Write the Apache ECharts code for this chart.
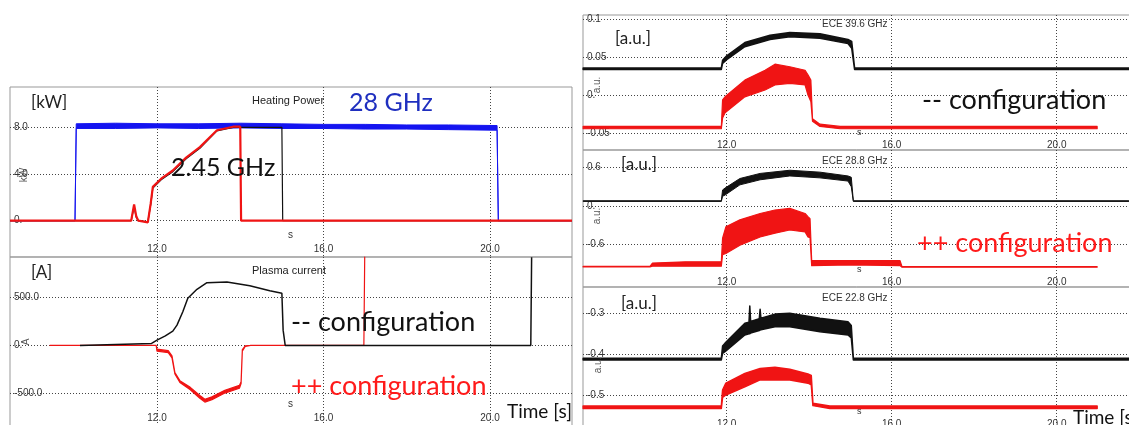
<!DOCTYPE html>
<html>
<head>
<meta charset="utf-8">
<script src="https://cdn.jsdelivr.net/npm/echarts@6/dist/echarts.min.js"></script>
<style>
  html, body { margin: 0; padding: 0; background: #fff; }
  #chart { width: 1129px; height: 425px; }
</style>
</head>
<body>
<div id="chart"></div>
<script>
// tick values
var timeTicks = [12, 16, 20];
var powerTicks = [0, 4, 8];
var currentTicks = [-500, 0, 500];
var ece396Ticks = [-0.05, 0, 0.05, 0.1];
var ece288Ticks = [-0.6, 0, 0.6];
var ece228Ticks = [-0.5, -0.4, -0.3];

// heating power [kW] - 28 GHz (blue, noisy band)
var p28Time = [8.47, 10.03, 10.06, 11.0, 12.0, 13.0, 14.0, 15.0, 16.0, 17.0, 18.0, 19.0, 20.17, 20.2, 21.97];
var p28Low = [0, 0, 7.9, 7.9, 7.95, 7.9, 7.95, 7.9, 7.9, 7.85, 7.85, 7.8, 7.75, 0, 0];
var p28High = [0, 0, 8.3, 8.35, 8.3, 8.3, 8.35, 8.3, 8.25, 8.25, 8.2, 8.2, 8.15, 0, 0];
// 2.45 GHz, forward (black) and measured (red)
var p245RefTime = [8.47, 11.38, 11.45, 11.5, 11.55, 11.78, 11.85, 11.9, 12.1, 12.38, 12.7, 13.03, 13.44, 13.83, 15.0, 15.02, 21.97];
var p245RefValue = [0, 0, 1.2, 0.3, 0, -0.1, 1.4, 2.8, 3.5, 4.2, 5.3, 6.2, 7.7, 8.0, 8.0, 0, 0];
var p245Time = [8.47, 11.38, 11.45, 11.5, 11.55, 11.78, 11.85, 11.9, 12.1, 12.38, 12.7, 13.03, 13.44, 13.83, 14.0, 14.02, 21.97];
var p245Value = [0, 0, 1.4, 0.4, 0, -0.15, 1.5, 2.9, 3.6, 4.3, 5.4, 6.3, 7.75, 8.05, 8.05, 0, 0];

// plasma current [A]
var ipMinusTime = [10.15, 11.87, 12.0, 12.2, 12.38, 12.48, 12.62, 12.74, 12.96, 13.2, 13.68, 14.23, 14.71, 15.0, 15.03, 15.08, 20.98, 21.0];
var ipMinusValue = [0, 20, 56, 100, 150, 213, 353, 494, 588, 658, 665, 625, 574, 546, 160, 0, 0, 925];
var ipPlusTime = [9.43, 11.98, 12.0, 12.27, 12.36, 12.43, 12.55, 12.8, 13.03, 13.15, 13.32, 13.63, 13.98, 14.02, 14.05, 14.12, 14.25, 16.97, 16.99];
var ipPlusLow = [0, 0, -60, -75, -130, -300, -390, -465, -555, -595, -570, -500, -450, -400, -60, -12, 0, 0, 925];
var ipPlusHigh = [0, 0, -40, -55, -110, -285, -370, -440, -525, -565, -540, -470, -420, -380, -45, -5, 0, 0, 925];

// ECE 39.6 GHz [a.u.]
var e396BlackTime = [8.52, 11.87, 11.9, 12.0, 12.44, 13.05, 13.53, 14.26, 14.94, 15.03, 15.1, 21.75];
var e396BlackLow = [0.034, 0.034, 0.042, 0.047, 0.064, 0.0735, 0.077, 0.075, 0.068, 0.062, 0.034, 0.034];
var e396BlackHigh = [0.036, 0.036, 0.046, 0.052, 0.0695, 0.079, 0.0825, 0.081, 0.0735, 0.071, 0.036, 0.036];
var e396RedTime = [8.52, 11.87, 11.9, 11.96, 12.44, 12.93, 13.17, 13.53, 13.9, 13.97, 14.04, 14.08, 14.26, 14.75, 20.98];
var e396RedLow = [-0.044, -0.044, -0.03, -0.023, -0.002, 0.007, 0.0136, 0.0158, 0.0136, 0.0004, -0.008, -0.034, -0.041, -0.044, -0.044];
var e396RedHigh = [-0.041, -0.041, -0.006, -0.002, 0.02, 0.033, 0.041, 0.0376, 0.033, 0.027, 0.02, -0.031, -0.038, -0.041, -0.041];

// ECE 28.8 GHz [a.u.]
var e288BlackTime = [8.52, 11.87, 11.9, 11.96, 12.32, 12.81, 13.53, 14.26, 14.94, 15.02, 15.07, 21.75];
var e288BlackLow = [0.07, 0.07, 0.15, 0.17, 0.33, 0.41, 0.47, 0.44, 0.39, 0.3, 0.07, 0.07];
var e288BlackHigh = [0.08, 0.08, 0.25, 0.28, 0.43, 0.51, 0.56, 0.53, 0.47, 0.45, 0.08, 0.08];
var e288RedTime = [8.52, 10.14, 10.2, 11.0, 11.87, 11.9, 11.98, 12.32, 12.81, 13.17, 13.53, 13.9, 13.97, 14.02, 14.06, 15.0, 16.2, 16.25, 20.98];
var e288RedLow = [-0.96, -0.96, -0.95, -0.95, -0.95, -0.77, -0.75, -0.62, -0.49, -0.43, -0.38, -0.41, -0.49, -0.5, -0.94, -0.93, -0.94, -0.965, -0.965];
var e288RedHigh = [-0.95, -0.95, -0.9, -0.88, -0.88, -0.51, -0.33, -0.22, -0.12, -0.065, -0.04, -0.12, -0.17, -0.2, -0.86, -0.86, -0.86, -0.955, -0.955];

// ECE 22.8 GHz [a.u.]
var e228BlackTime = [8.52, 11.87, 11.9, 11.96, 12.44, 12.54, 12.56, 12.58, 12.79, 12.81, 12.83, 13.17, 13.53, 14.26, 14.94, 15.02, 15.07, 21.75];
var e228BlackLow = [-0.414, -0.414, -0.398, -0.394, -0.353, -0.35, -0.35, -0.348, -0.342, -0.341, -0.34, -0.333, -0.333, -0.345, -0.353, -0.36, -0.414, -0.414];
var e228BlackHigh = [-0.41, -0.41, -0.38, -0.373, -0.3245, -0.322, -0.282, -0.32, -0.313, -0.29, -0.312, -0.302, -0.3, -0.312, -0.3206, -0.33, -0.41, -0.41];
var e228RedTime = [8.52, 11.87, 11.9, 11.98, 12.44, 12.81, 13.17, 13.53, 13.97, 14.05, 14.09, 14.5, 20.98];
var e228RedLow = [-0.533, -0.533, -0.506, -0.5, -0.48, -0.463, -0.463, -0.463, -0.471, -0.475, -0.526, -0.533, -0.533];
var e228RedHigh = [-0.527, -0.527, -0.488, -0.471, -0.447, -0.435, -0.432, -0.437, -0.4486, -0.452, -0.52, -0.527, -0.527];

var BLUE = '#1414f0';
var RED = '#f01414';
var BLACK = '#111';
var gridLine = { color: '#444', width: 1, type: [1, 2] };
var tickFont = { fontSize: 10, color: '#333', fontFamily: 'Liberation Sans' };

function trace(grid, t, v, color, width) {
  return {
    type: 'line', xAxisIndex: grid, yAxisIndex: grid, symbol: 'none',
    data: t.map(function (x, i) { return [x, v[i]]; }),
    lineStyle: { color: color, width: width }
  };
}

// noisy trace: filled polygon between the low and high envelopes
function band(grid, t, lo, hi, color, width) {
  return {
    type: 'custom', xAxisIndex: grid, yAxisIndex: grid,
    data: t.map(function (x, i) { return [x, lo[i], hi[i]]; }),
    encode: { x: 0, y: [1, 2] },
    renderItem: function (params, api) {
      if (params.dataIndex !== 0) return null;
      var pts = [];
      for (var i = 0; i < t.length; i++) pts.push(api.coord([t[i], lo[i]]));
      for (var j = t.length - 1; j >= 0; j--) pts.push(api.coord([t[j], hi[j]]));
      return {
        type: 'polygon',
        shape: { points: pts },
        style: { fill: color, stroke: color, lineWidth: width, lineJoin: 'round' }
      };
    }
  };
}

function zeroDot(v, digits) {
  if (v === 0) return '0.';
  return digits == null ? String(v) : v.toFixed(digits);
}

function timeAxis(grid, min, max, margin) {
  return {
    type: 'value', gridIndex: grid, min: min, max: max,
    axisLine: { show: false, onZero: false },
    axisTick: { show: false, customValues: timeTicks },
    axisLabel: Object.assign({
      inside: true, margin: margin, customValues: timeTicks,
      formatter: function (v) { return v.toFixed(1); }
    }, tickFont),
    splitLine: { show: true, lineStyle: gridLine }
  };
}

function valueAxis(grid, min, max, ticks, digits) {
  return {
    type: 'value', gridIndex: grid, min: min, max: max,
    axisLine: { show: false },
    axisTick: { show: false, customValues: ticks },
    axisLabel: Object.assign({
      inside: true, margin: 4, customValues: ticks,
      verticalAlign: 'middle', padding: [6, 0, 0, 0],
      formatter: function (v) { return zeroDot(v, digits); }
    }, tickFont),
    splitLine: { show: true, lineStyle: gridLine }
  };
}

function label(text, x, y, size, color, font, rot) {
  return {
    type: 'text', x: x, y: y, rotation: rot || 0, z: 100,
    style: {
      text: text, fill: color, fontSize: size,
      fontFamily: font || 'Liberation Sans',
      align: rot ? 'center' : 'left', verticalAlign: 'middle'
    }
  };
}

var chart = echarts.init(document.getElementById('chart'));

var frame = {
  show: true, borderColor: '#999', borderWidth: 1,
  backgroundColor: 'transparent', outerBoundsMode: 'none', containLabel: false
};

var option = {
  animation: false,
  backgroundColor: '#fff',
  grid: [
    Object.assign({ left: 10, top: 87, width: 562, height: 170 }, frame),
    Object.assign({ left: 10, top: 257, width: 562, height: 170 }, frame),
    Object.assign({ left: 583, top: 15, width: 552, height: 135 }, frame),
    Object.assign({ left: 583, top: 150, width: 552, height: 137 }, frame),
    Object.assign({ left: 583, top: 287, width: 552, height: 140 }, frame)
  ],
  xAxis: [
    timeAxis(0, 8.4685, 21.97, 3),
    timeAxis(1, 8.4685, 21.97, 4),
    timeAxis(2, 8.5164, 21.898, 0),
    timeAxis(3, 8.5164, 21.898, 0),
    timeAxis(4, 8.5164, 21.898, -2)
  ],
  yAxis: [
    valueAxis(0, -3.109, 11.452, powerTicks, 1),
    valueAxis(1, -856, 927.1, currentTicks, 1),
    valueAxis(2, -0.07197, 0.10566, ece396Ticks),
    valueAxis(3, -1.2763, 0.8784, ece288Ticks),
    valueAxis(4, -0.5783, -0.23562, ece228Ticks)
  ],
  series: [
    band(0, p28Time, p28Low, p28High, BLUE, 1),
    trace(0, p245RefTime, p245RefValue, BLACK, 1.2),
    trace(0, p245Time, p245Value, RED, 2.2),
    trace(1, ipMinusTime, ipMinusValue, BLACK, 1.5),
    band(1, ipPlusTime, ipPlusLow, ipPlusHigh, RED, 1.2),
    band(2, e396BlackTime, e396BlackLow, e396BlackHigh, BLACK, 1.5),
    band(2, e396RedTime, e396RedLow, e396RedHigh, RED, 1.2),
    band(3, e288BlackTime, e288BlackLow, e288BlackHigh, BLACK, 1),
    band(3, e288RedTime, e288RedLow, e288RedHigh, RED, 1.2),
    band(4, e228BlackTime, e228BlackLow, e228BlackHigh, BLACK, 1.5),
    band(4, e228RedTime, e228RedLow, e228RedHigh, RED, 1.5)
  ],
  graphic: [
    label('[kW]', 31, 103, 17, '#222', 'Lato'),
    label('Heating Power', 252, 101, 11, '#222'),
    label('28 GHz', 349, 103, 25, '#1f2fbf', 'Lato'),
    label('2.45 GHz', 171, 168, 25, '#111', 'Lato'),
    label('kW', 24, 175, 10, '#555', null, Math.PI / 2),
    label('s', 288, 235, 10, '#333'),
    label('[A]', 31, 273, 17, '#222', 'Lato'),
    label('Plasma current', 252, 271, 11, '#222'),
    label('A', 26, 342, 10, '#555', null, Math.PI / 2),
    label('-- configuration', 291, 322, 27, '#111', 'Lato'),
    label('++ configuration', 291, 386, 27, '#ff1a1a', 'Lato'),
    label('s', 288, 404, 10, '#333'),
    label('Time [s]', 507, 412, 19, '#111', 'Lato'),

    label('[a.u.]', 615, 39, 17, '#222', 'Lato'),
    label('ECE 39.6 GHz', 822, 24, 10, '#333'),
    label('a.u.', 597, 85, 10, '#555', null, Math.PI / 2),
    label('-- configuration', 922, 100, 27, '#111', 'Lato'),
    label('s', 857, 133, 9, '#333'),
    label('[a.u.]', 621, 165, 17, '#222', 'Lato'),
    label('ECE 28.8 GHz', 822, 161, 10, '#333'),
    label('a.u.', 597, 216, 10, '#555', null, Math.PI / 2),
    label('++ configuration', 917, 243, 27, '#ff1a1a', 'Lato'),
    label('s', 857, 270, 9, '#333'),
    label('[a.u.]', 621, 304, 17, '#222', 'Lato'),
    label('ECE 22.8 GHz', 822, 298, 10, '#333'),
    label('a.u.', 598, 365, 10, '#555', null, Math.PI / 2),
    label('s', 857, 412, 9, '#333'),
    label('Time [s]', 1073, 418, 19, '#111', 'Lato')
  ]
};

chart.setOption(option);
</script>
</body>
</html>
